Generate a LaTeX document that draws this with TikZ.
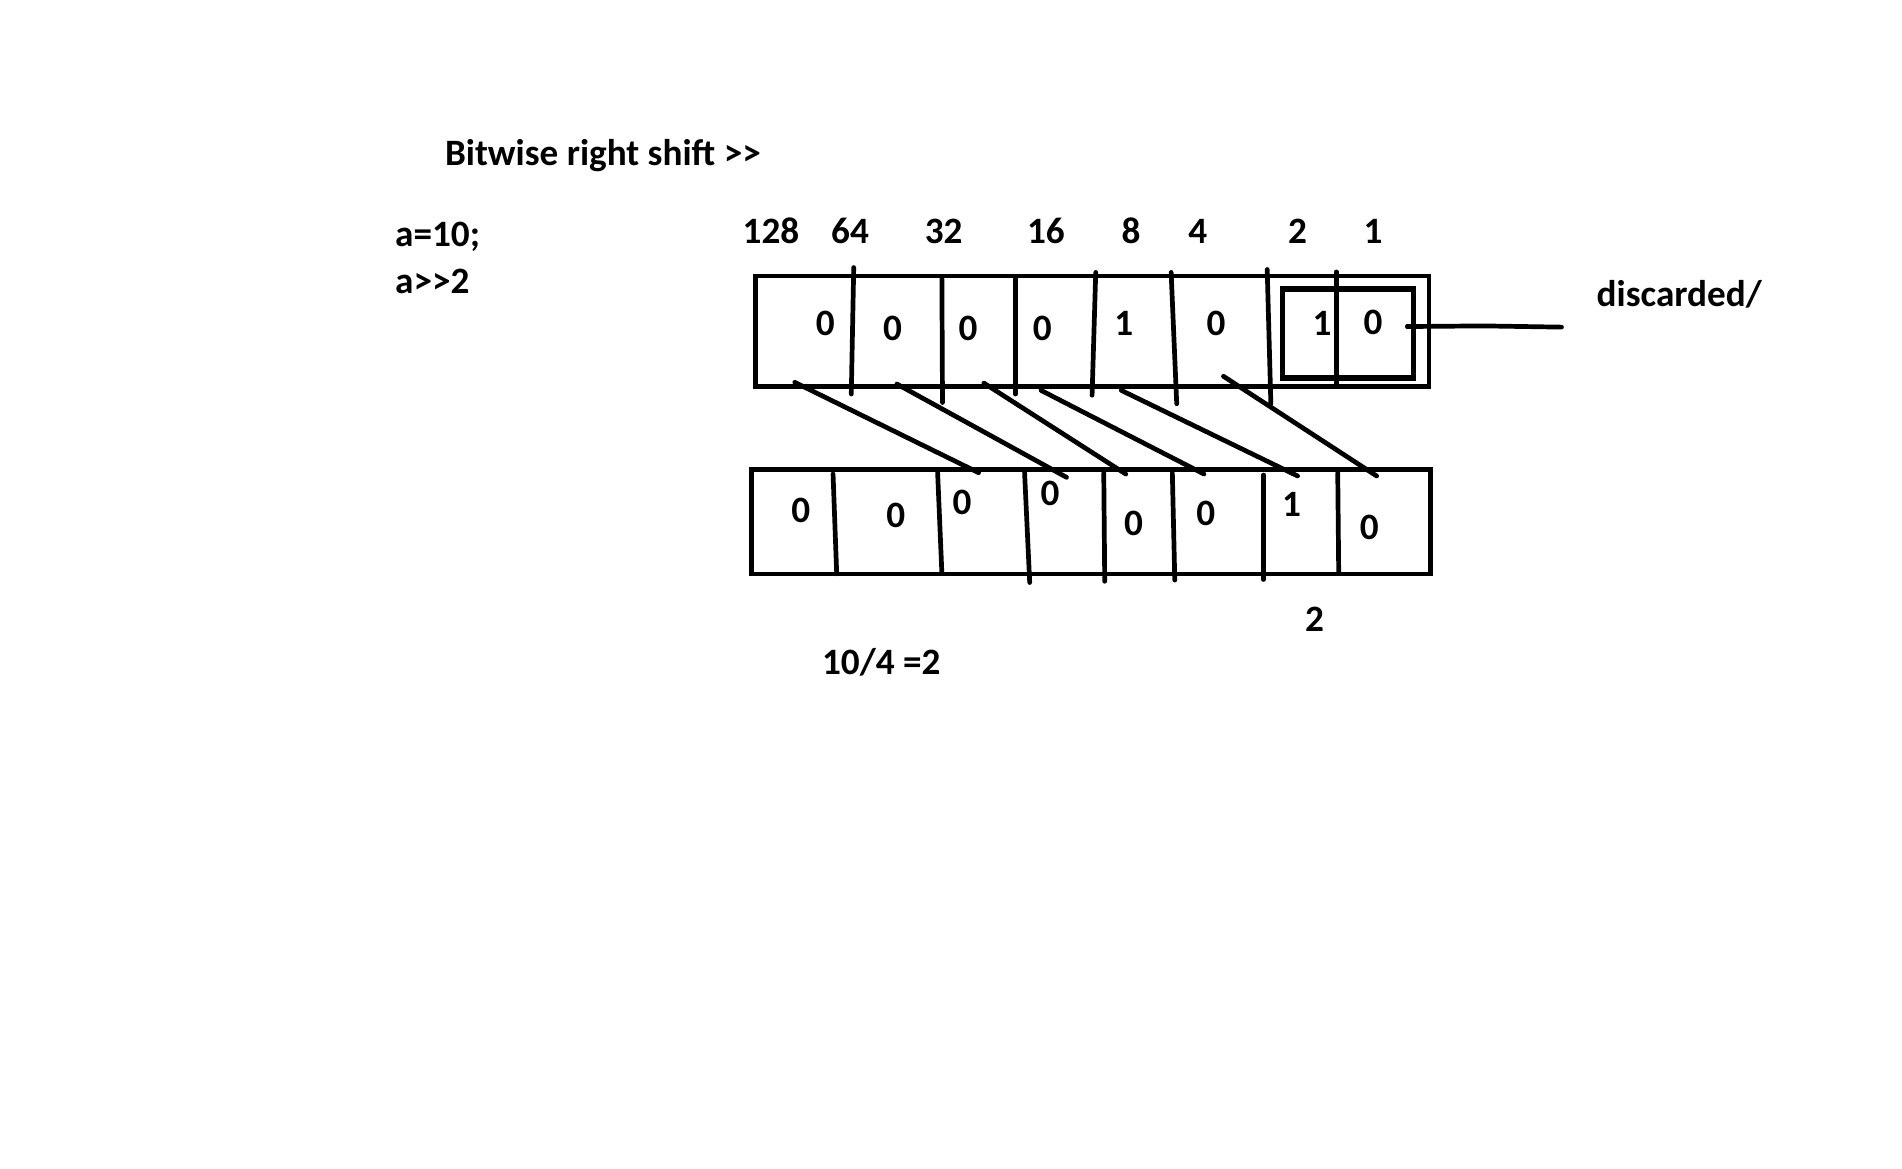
\documentclass[tikz,border=0pt]{standalone}
\usepackage{fontspec}
\setmainfont{Carlito}
\begin{document}
\begin{tikzpicture}[x=0.01cm,y=-0.01cm,line width=1.1pt,line cap=round,
  txt/.style={font=\fontsize{8.7}{10.4}\selectfont\bfseries,inner sep=0pt},
  ink/.style={line width=1.1pt}]
\useasboundingbox[fill=white] (0,0) rectangle (1564,961);
% texts
\node[txt,anchor=base west] (title) at (364,136) {Bitwise right shift >{}>};
\node[txt,anchor=base west] (decl) at (323,203) {a=10;};
\node[txt,anchor=base west] (op) at (323,241) {a>{}>2};
\node[txt,anchor=base west] (disc) at (1311,252) {discarded/};
\node[txt,anchor=base west] (calc) at (674,555) {10/4 =2};
\node[txt,anchor=base] (res) at (1081,519) {2};
% place values
\foreach \x/\v [count=\i] in {634/128,699/64,776/32,860/16,930/8,985/4,1067/2,1129/1}
  \node[txt,anchor=base] (pv\i) at (\x,200) {\v};
% top box
\draw[ink] (621,227) rectangle (1175,318);
\draw[ink] (702,220) -- (700,324);
\draw[ink] (774.5,229) -- (775,331);
\draw[ink] (835,229) -- (835,324);
\draw[ink] (901,224) -- (898,325);
\draw[ink] (963,224) -- (967.6,332);
\draw[ink] (1042,221.6) -- (1045,332);
\draw[ink] (1098.7,223.6) -- (1098.7,316.6);
\draw[line width=1.25pt] (1054.6,237.7) rectangle (1162.5,310.8);
% top bits
\foreach \x/\y/\v [count=\i] in {678.7/266/0,734/270/0,796/270/0,857/270/0,924/266/1,1000/266/0,1087/266/1,1129/265/0}
  \node[txt] (tb\i) at (\x,\y) {\v};
% discard line
\coordinate (dstart) at (1157.5,268.5);
\coordinate (dend) at (1284,269);
\fill (dstart) circle (2.2);
\draw[ink] (dstart) -- (1220,268) -- (dend);
% bottom box
\draw[ink] (617.8,386) rectangle (1176.5,472);
\draw[ink] (685,389.8) -- (688,471.8);
\draw[ink] (771,388.7) -- (774.5,471.8);
\draw[ink] (842.5,388.7) -- (846.7,479);
\draw[ink] (907.6,389) -- (908.4,478);
\draw[ink] (964,389) -- (966,477);
\draw[ink] (1039,390.6) -- (1039,476.5);
\draw[ink] (1100,389) -- (1100.8,471);
% bottom bits
\foreach \x/\y/\v [count=\i] in {658.5/420/0,736.7/424/0,791/413/0,863.5/406/0,932/430/0,991.6/422/0,1062/414.5/1,1126/434/0}
  \node[txt] (bb\i) at (\x,\y) {\v};
% shift lines
\foreach \a/\b/\c/\d [count=\i] in {653.5/314.4/804.7/388.7,737.5/315.8/877/392.5,809/315/925.7/389.8,856/321/990/389.8,922/321/1067/391.4,1006/309.4/1132/391.4}{
  \coordinate (s\i) at (\a,\b);
  \coordinate (e\i) at (\c,\d);
  \draw[ink] (s\i) -- (e\i);
}
\end{tikzpicture}
\end{document}
